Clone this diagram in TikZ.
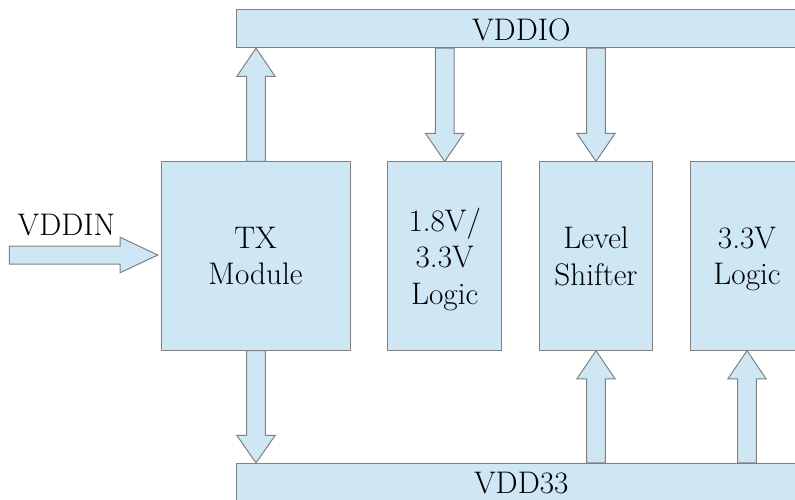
\documentclass[tikz,border=0pt]{standalone}
\usetikzlibrary{calc}
\definecolor{boxfill}{HTML}{CFE7F5}
\definecolor{boxline}{HTML}{808080}
\tikzset{
  blk/.style={draw=boxline, fill=boxfill, line width=1pt, inner sep=0pt,
    align=center, text depth=0pt,
    font=\rmfamily\fontsize{31.2}{36.4}\selectfont},
  arrowst/.style={draw=boxline, fill=boxfill, line width=1pt, line join=miter},
  lbl/.style={font=\rmfamily\fontsize{31.2}{36.4}\selectfont, inner sep=0pt}
}
% #1 from, #2 to, #3 shaft half width, #4 head half width, #5 head length
\newcommand{\blockarr}[5]{%
  \coordinate (ba-h) at ($(#2)!#5!(#1)$);
  \draw[arrowst]
    ($(#1)!#3!-90:(#2)$) --
    ($(ba-h)!#3!90:(#1)$) --
    ($(ba-h)!#4!90:(#1)$) --
    (#2) --
    ($(ba-h)!#4!-90:(#1)$) --
    ($(ba-h)!#3!-90:(#1)$) --
    ($(#1)!#3!90:(#2)$) -- cycle;}
\begin{document}
\begin{tikzpicture}[x=1pt,y=-1pt]
\useasboundingbox (0,0) rectangle (795,499);
\clip (0,0) rectangle (795,499);
% buses
\node[blk, minimum width=569.3pt, minimum height=37.7pt] (vddio) at (521.3,28.8) {};
\node[lbl, anchor=base] at (521.3,40.7) {VDDIO};
\node[blk, minimum width=569.3pt, minimum height=37.7pt] (vdd33) at (521.3,482.2) {};
\node[lbl, anchor=base] at (521.3,493.5) {VDD33};
% blocks
\node[blk, minimum width=189pt, minimum height=188.3pt] (tx) at (255.5,256) {TX\\Module};
\node[blk, minimum width=114pt, minimum height=188.3pt] (l18) at (444.7,256) {1.8V/\\3.3V\hspace*{8pt}\\Logic};
\node[blk, minimum width=113.4pt, minimum height=188.3pt] (ls) at (596,256) {Level\\Shifter};
\node[blk, minimum width=113.4pt, minimum height=188.3pt] (l33) at (747,256) {3.3V\\Logic};
% VDDIN
\node[lbl, anchor=base] (vddin) at (66.5,235.7) {VDDIN};
\coordinate (inS) at (9.3,255);
\coordinate (inE) at ($(tx.west)+(-2.7,-1)$);
\blockarr{inS}{inE}{9pt}{17.7pt}{37.6pt}
% arrows
\coordinate (txu) at ($(tx.north)+(0.5,0)$);
\coordinate (txd) at ($(tx.south)+(0.5,0)$);
\blockarr{txu}{txu |- vddio.south}{9.3pt}{19.2pt}{28.3pt}
\blockarr{txd}{txd |- vdd33.north}{9.3pt}{19.2pt}{27.5pt}
\blockarr{vddio.south -| l18.north}{l18.north}{9.3pt}{19.2pt}{28pt}
\blockarr{vddio.south -| ls.north}{ls.north}{9.3pt}{19.2pt}{28pt}
\blockarr{vdd33.north -| ls.south}{ls.south}{9.3pt}{19.2pt}{28.3pt}
\blockarr{vdd33.north -| l33.south}{l33.south}{9.3pt}{19.2pt}{28.3pt}
\end{tikzpicture}
\end{document}
